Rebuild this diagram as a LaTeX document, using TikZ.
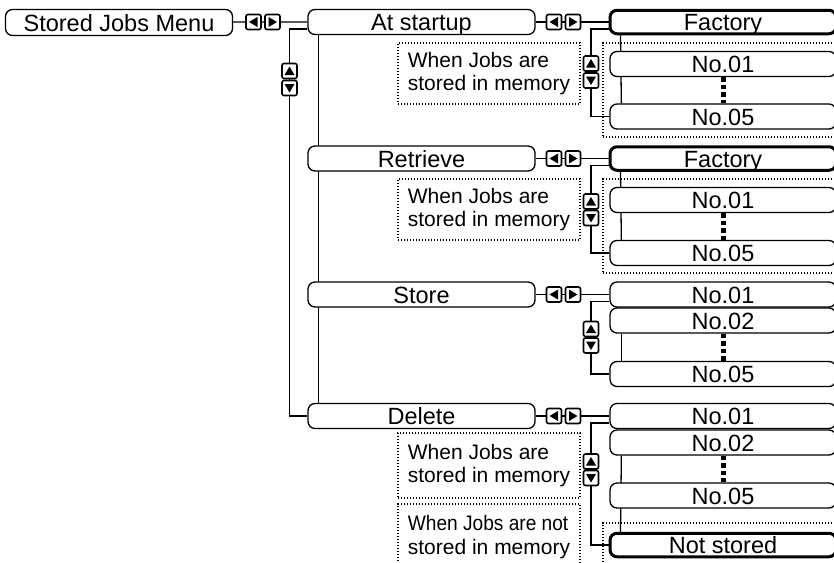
\documentclass[tikz,border=0pt]{standalone}
\usepackage{fontspec}
\setmainfont{Liberation Sans}
\usetikzlibrary{backgrounds}
\tikzset{
  item/.style={draw, line width=1.3pt, rounded corners=7pt, fill=white, inner sep=0pt,
    minimum width=226pt, minimum height=25pt, text height=17pt, text depth=0pt,
    font=\fontsize{23.5}{25}\selectfont},
  chosen/.style={item, line width=3pt, minimum height=23.5pt},
  note/.style={draw, dash pattern=on 1.2pt off 1.8pt, line width=1.2pt, inner sep=0pt, minimum width=182pt,
    align=left, font=\fontsize{21}{23.5}\selectfont},
  groupbox/.style={draw, dash pattern=on 1.2pt off 1.8pt, line width=1.2pt, minimum width=240pt},
  btn/.style={draw, line width=1.6pt, rounded corners=2pt, fill=white, inner sep=0pt, minimum size=15pt},
  lkey/.style={btn, path picture={\fill[black, sharp corners] ([xshift=-4.5pt]path picture bounding box.center) -- ++(8.5pt,5pt) -- ++(0pt,-10pt) -- cycle;}},
  rkey/.style={btn, path picture={\fill[black, sharp corners] ([xshift=4.5pt]path picture bounding box.center) -- ++(-8.5pt,5pt) -- ++(0pt,-10pt) -- cycle;}},
  ukey/.style={btn, path picture={\fill[black, sharp corners] ([yshift=4.5pt]path picture bounding box.center) -- ++(5pt,-8.5pt) -- ++(-10pt,0pt) -- cycle;}},
  dkey/.style={btn, path picture={\fill[black, sharp corners] ([yshift=-4.5pt]path picture bounding box.center) -- ++(5pt,8.5pt) -- ++(-10pt,0pt) -- cycle;}},
  wire/.style={line width=1.3pt},
  vdots/.style={line width=5pt, dash pattern=on 4.5pt off 3pt}
}
\begin{document}
\begin{tikzpicture}[x=1pt, y=-1pt]
	\useasboundingbox (0,0) rectangle (834,562);
	\clip (0,0) rectangle (834,562);
	\node[item, minimum width=227pt, minimum height=26pt] (menu) at (119,22.5) {Stored Jobs Menu};
	\node[lkey] (mL) at (253.5,22) {};
	\node[rkey] (mR) at (272.5,22) {};
	\node[ukey] (mU) at (289.5,71) {};
	\node[dkey] (mD) at (289.5,88) {};
	\node[item, minimum width=227pt] (startup) at (421.5,22) {At startup};
	\node[item, minimum width=227pt] (retrieve) at (421.5,158.5) {Retrieve};
	\node[item, minimum width=227pt] (store) at (421.5,294.5) {Store};
	\node[item, minimum width=227pt] (delete) at (421.5,416) {Delete};

	\node[note, minimum height=61pt] (aNote) at (489,73.5) {When Jobs are\\stored in memory};
	\node[note, minimum height=61pt] (rNote) at (489,209.5) {When Jobs are\\stored in memory};
	\node[note, minimum height=65pt] (dNote) at (489,465.5) {When Jobs are\\stored in memory};
	\node[note, minimum height=66pt] (dNoteN) at (489,537) {\scalebox{0.91}[1]{When Jobs are not}\\stored in memory};

	\node[groupbox, minimum height=94pt] (aFrame) at (723,90) {};
	\node[groupbox, minimum height=94pt] (rFrame) at (723,226) {};
	\node[groupbox, minimum height=76pt] (dFrame) at (723,561) {};

	\node[lkey] (aL) at (554,22) {};
	\node[rkey] (aR) at (573,22) {};
	\node[ukey] (aU) at (591,63.5) {};
	\node[dkey] (aD) at (591,80.5) {};
	\node[chosen] (aFac) at (723,22) {Factory};
	\node[item] (aNo1) at (723,64) {No.01};
	\node[item] (aNo5) at (723,116.5) {No.05};

	\node[lkey] (rL) at (554,158.5) {};
	\node[rkey] (rR) at (573,158.5) {};
	\node[ukey] (rU) at (591,201.5) {};
	\node[dkey] (rD) at (591,218) {};
	\node[chosen] (rFac) at (723,158.5) {Factory};
	\node[item] (rNo1) at (723,200) {No.01};
	\node[item] (rNo5) at (723,253) {No.05};

	\node[lkey] (sL) at (554,294.5) {};
	\node[rkey] (sR) at (573,294.5) {};
	\node[ukey] (sU) at (591,329) {};
	\node[dkey] (sD) at (591,345.5) {};
	\node[item] (sNo1) at (723,294.5) {No.01};
	\node[item] (sNo2) at (723,320.5) {No.02};
	\node[item] (sNo5) at (723,374) {No.05};

	\node[lkey] (dL) at (554,416) {};
	\node[rkey] (dR) at (573,416) {};
	\node[ukey] (dU) at (591,461.5) {};
	\node[dkey] (dD) at (591,478) {};
	\node[item] (dNo1) at (723,416) {No.01};
	\node[item] (dNo2) at (723,442.5) {No.02};
	\node[item] (dNo5) at (723,495.5) {No.05};
	\node[chosen] (dNone) at (723,545) {Not stored};

	\begin{scope}[on background layer]
	\draw[wire] (menu) -- (mL) -- (mR) -- (startup);
	\draw[wire] ([yshift=-7pt]startup.west) -| (mU.center) |- (delete.west);
	\draw[wire] ([xshift=11pt]startup.south west) -- ([xshift=11pt]delete.north west);

	\draw[wire] (startup) -- (aL) -- (aR) -- (aFac);
	\draw[wire] ([yshift=-7pt]aFac.west) -| (aU.center) |- (aNo5.west);
	\draw[wire] ([xshift=12pt]aFac.south west) -- ([xshift=12pt]aNo5.north west);
	\draw[vdots] (aNo1) -- (aNo5);

	\draw[wire] (retrieve) -- (rL) -- (rR) -- (rFac);
	\draw[wire] ([yshift=-7pt]rFac.west) -| (rU.center) |- (rNo5.west);
	\draw[wire] ([xshift=12pt]rFac.south west) -- ([xshift=12pt]rNo5.north west);
	\draw[vdots] (rNo1) -- (rNo5);

	\draw[wire] (store) -- (sL) -- (sR) -- (sNo1);
	\draw[wire] ([yshift=-7pt]sNo1.west) -| (sU.center) |- (sNo5.west);
	\draw[wire] ([xshift=12pt]sNo2.south west) -- ([xshift=12pt]sNo5.north west);
	\draw[vdots] (sNo2) -- (sNo5);

	\draw[wire] (delete) -- (dL) -- (dR) -- (dNo1);
	\draw[wire] ([yshift=-7pt]dNo1.west) -| (dU.center) |- (dNone.west);
	\draw[wire] ([xshift=12pt]dNo2.south west) -- ([xshift=12pt]dNone.north west);
	\draw[vdots] (dNo2) -- (dNo5);
	\end{scope}
\end{tikzpicture}
\end{document}
